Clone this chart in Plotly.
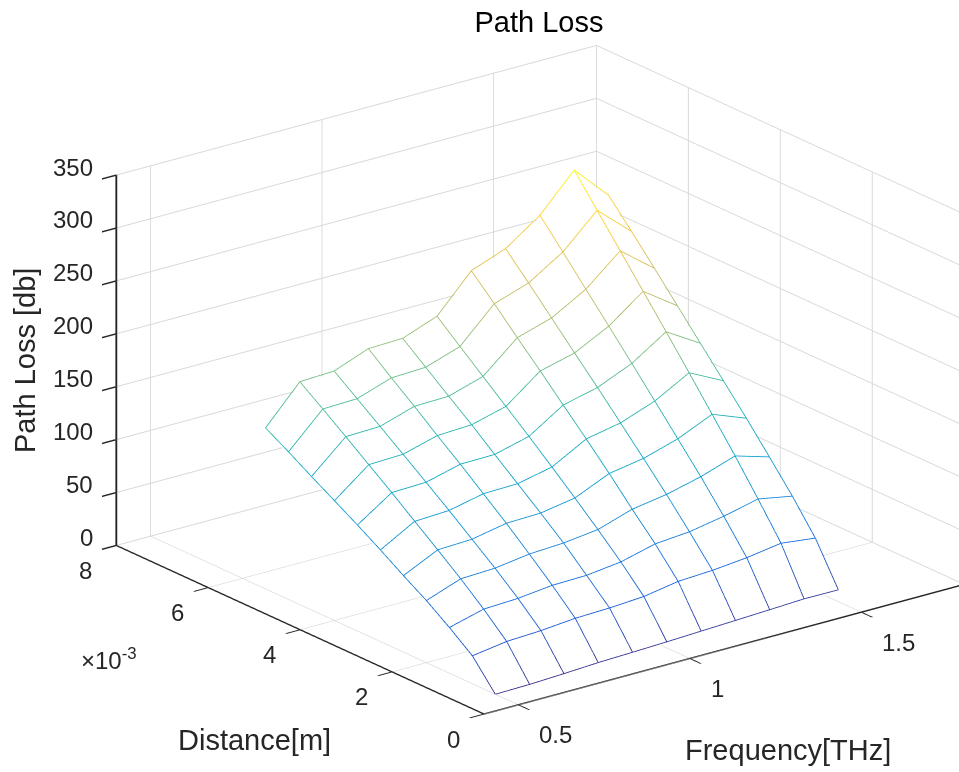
import math
import plotly.graph_objects as go

frequency_thz = [0.5, 0.6, 0.7, 0.8, 0.9, 1.0, 1.1, 1.2, 1.3, 1.4, 1.5]
distance_m = [0.0005, 0.001, 0.0015, 0.002, 0.0025, 0.003, 0.0035, 0.004, 0.0045, 0.005, 0.0055]

loss_d00 = [0.0, 0.6, 2.0, 3.7, 4.7, 5.8, 7.2, 8.5, 9.9, 11.4, 11.2]
loss_d01 = [26.4, 31.2, 32.7, 35.6, 36.6, 38.7, 44.2, 45.9, 49.1, 54.0, 50.1]
loss_d02 = [43.2, 51.8, 53.2, 56.8, 57.5, 61.4, 69.7, 72.4, 78.3, 85.9, 79.8]
loss_d03 = [58.7, 70.5, 71.8, 76.4, 78.1, 82.0, 92.5, 97.7, 105.7, 116.6, 106.9]
loss_d04 = [72.3, 87.9, 89.2, 95.5, 96.4, 101.9, 116.3, 121.8, 131.6, 146.0, 133.5]
loss_d05 = [86.6, 104.9, 106.4, 113.5, 114.2, 121.2, 139.0, 145.4, 157.3, 175.3, 159.0]
loss_d06 = [100.2, 122.1, 123.1, 131.4, 131.9, 140.2, 161.1, 168.9, 182.9, 204.1, 184.4]
loss_d07 = [113.2, 138.5, 139.6, 148.5, 150.0, 158.6, 183.3, 191.6, 208.2, 232.3, 209.9]
loss_d08 = [126.1, 155.0, 156.0, 166.2, 167.0, 176.9, 204.8, 214.7, 233.1, 260.7, 235.3]
loss_d09 = [139.5, 171.2, 172.2, 183.1, 184.4, 195.3, 227.0, 237.8, 258.4, 288.9, 260.3]
loss_d10 = [152.1, 187.0, 188.4, 200.8, 201.8, 213.9, 248.2, 260.3, 283.1, 317.0, 284.6]
path_loss = [loss_d00, loss_d01, loss_d02, loss_d03, loss_d04, loss_d05,
             loss_d06, loss_d07, loss_d08, loss_d09, loss_d10]

freq_ticks = [0.5, 1, 1.5]
freq_tick_labels = ["0.5", "1", "1.5"]
dist_ticks = [0, 0.002, 0.004, 0.006, 0.008]
dist_tick_labels = ["0", "2", "4", "6", "8"]
loss_ticks = [0, 50, 100, 150, 200, 250, 300, 350]

PARULA = ["#352a87", "#0f5cdd", "#1481d6", "#06a4ca", "#2eb7a4",
          "#87bf77", "#d1bb59", "#fec832", "#f9fb0e"]
FONT = "Liberation Sans, Arial, sans-serif"
INK = "#262626"
GRID = "#d8d8d8"
W, H = 959, 772

all_z = [v for row in path_loss for v in row]
zmin, zmax = min(all_z), max(all_z)

# White occluder just under the mesh lines so that they stay fully visible.
OCCLUDER_DROP = 2.0
fig = go.Figure()
fig.add_trace(go.Surface(
    x=frequency_thz, y=distance_m,
    z=[[v - OCCLUDER_DROP for v in row] for row in path_loss],
    surfacecolor=[[0] * len(frequency_thz) for _ in distance_m],
    colorscale=[[0, "white"], [1, "white"]], showscale=False,
    lighting=dict(ambient=1, diffuse=0, specular=0, fresnel=0, roughness=1),
    hoverinfo="skip",
))


def mesh_line(xs, ys, zs):
    fig.add_trace(go.Scatter3d(
        x=xs, y=ys, z=zs, mode="lines", showlegend=False, hoverinfo="skip",
        line=dict(color=zs, colorscale=[[i / 8, c] for i, c in enumerate(PARULA)],
                  cmin=zmin, cmax=zmax, width=1.7),
    ))


for j, d in enumerate(distance_m):
    mesh_line(frequency_thz, [d] * len(frequency_thz), path_loss[j])
for i, f in enumerate(frequency_thz):
    mesh_line([f] * len(distance_m), distance_m, [row[i] for row in path_loss])


def axis(rng, vals, linewidth=3):
    return dict(
        range=rng, tickmode="array", tickvals=vals, showticklabels=False,
        title=dict(text=""), showgrid=True, gridcolor=GRID, gridwidth=2,
        showbackground=False, showline=True, linecolor=INK, linewidth=linewidth,
        ticks="outside", ticklen=18, tickcolor=INK, tickwidth=3,
        zeroline=False, showspikes=False,
    )


def tick_label(x, y, z, text, xshift, yshift, xanchor):
    return dict(x=x, y=y, z=z, text=text, showarrow=False, xshift=xshift, yshift=yshift,
                xanchor=xanchor, yanchor="middle",
                font=dict(family=FONT, size=24, color=INK))


labels = []
labels += [tick_label(v, 0, 0, t, 19, -30, "left") for v, t in zip(freq_ticks, freq_tick_labels)]
labels += [tick_label(0.4, v, 0, t, -31, -25, "center") for v, t in zip(dist_ticks, dist_tick_labels)]
labels += [tick_label(0.4, 0.008, v, str(v), -21, 8, "right") for v in loss_ticks]

az = math.radians(37.5)
el = math.radians(20.6)
R = 2.5
shift = 0.1574
center = dict(x=-shift * math.cos(az), y=shift * math.sin(az), z=-0.0173)
eye = dict(x=center["x"] - math.sin(az) * math.cos(el) * R,
           y=center["y"] - math.cos(az) * math.cos(el) * R,
           z=center["z"] + math.sin(el) * R)


def paper_label(text, px, py, size, **extra):
    return dict(text=text, x=px / W, y=1 - py / H, xref="paper", yref="paper",
                xanchor="center", yanchor="middle", showarrow=False,
                font=dict(family=FONT, size=size, color=INK), **extra)


fig.update_layout(
    width=W, height=H, autosize=False,
    margin=dict(l=0, r=0, t=0, b=0), paper_bgcolor="white",
    showlegend=False,
    title=dict(text="Path Loss", x=539 / W, xanchor="center",
               y=1 - 22 / H, yanchor="middle",
               font=dict(family=FONT, size=29, color="black")),
    scene=dict(
        domain=dict(x=[0, 1], y=[0, 1]),
        xaxis=axis([0.4, 1.8], freq_ticks),
        yaxis=axis([0, 0.008], dist_ticks),
        zaxis=axis([0, 350], loss_ticks, 4),
        aspectmode="manual", aspectratio=dict(x=1.568, y=1.565, z=1.025),
        camera=dict(eye=eye, center=center, up=dict(x=0, y=0, z=1),
                    projection=dict(type="orthographic")),
        annotations=labels,
    ),
    annotations=[
        paper_label("Distance[m]", 254, 740, 29),
        paper_label("Frequency[THz]", 788, 750, 29),
        paper_label("Path Loss [db]", 25, 361, 29, textangle=-90),
        paper_label("×10<sup>-3</sup>", 109, 659, 24),
    ],
)

fig.write_html("out.html", post_script="document.body.style.margin='0';",
               config={"displayModeBar": False})
